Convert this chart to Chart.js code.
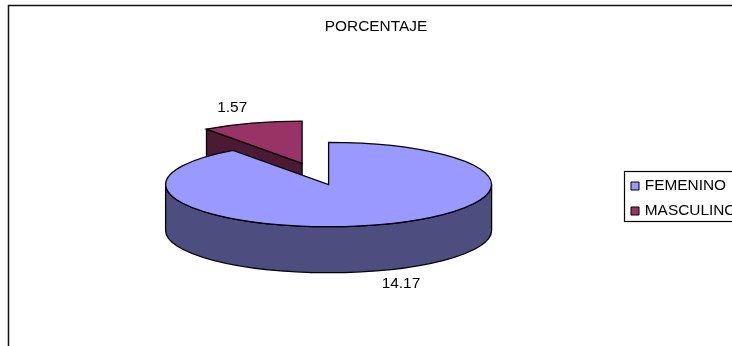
<!DOCTYPE html>
<html>
<head>
<meta charset="utf-8">
<title>PORCENTAJE</title>
<script src="https://cdn.jsdelivr.net/npm/chart.js@4/dist/chart.umd.js"></script>
<style>
    html, body { margin: 0; padding: 0; background: #fff; overflow: hidden; }
    #wrap { width: 732px; height: 346px; overflow: hidden; }
    canvas { display: block; }
</style>
</head>
<body>
<div id="wrap"><canvas id="pieChart" width="752" height="346"></canvas></div>
<script>
const titleText = 'PORCENTAJE';
const categories = ['FEMENINO', 'MASCULINO'];
const percentValues = [14.17, 1.57];
const topColors = ['#9999FF', '#993366'];
const wallColors = ['#4D4D80', '#4D1A33'];

// pie geometry, flattened into a fake 3D disc
const pie = { x: 328.6, y: 184.5, radius: 163, tilt: 0.2585, depth: 46, explode: 86 };
// label placement per slice: radial stretch and gap past the rim
const labelStretch = [1.44, 1.39];
const labelGap = [13, 15.5];
const fontFamily = '"Liberation Sans", Arial, sans-serif';
const fontSize = 15.4;
const legendRowGap = 9.6;
const outlineWidth = 1.3;

const midAngle = (arc) => (arc.startAngle + arc.endAngle) / 2;

// screen y of a pie-space y, once squashed by the tilt
const squashY = (y) => pie.y + (y - pie.y) * pie.tilt;

const traceRim = (ctx, arc, dy, from, to, back) => {
    ctx.ellipse(arc.x, squashY(arc.y) + dy, pie.radius, pie.radius * pie.tilt, 0, from, to, back);
};

const rimPoint = (arc, angle) => ({
    x: arc.x + Math.cos(angle) * pie.radius,
    y: squashY(arc.y) + Math.sin(angle) * pie.radius * pie.tilt
});

const paintPath = (ctx, fill) => {
    ctx.fillStyle = fill;
    ctx.fill();
    ctx.lineWidth = outlineWidth;
    ctx.strokeStyle = '#000';
    ctx.stroke();
};

const drawCutFace = (ctx, arc, angle, fill) => {
    const p = rimPoint(arc, angle);
    const cy = squashY(arc.y);
    ctx.beginPath();
    ctx.moveTo(arc.x, cy);
    ctx.lineTo(p.x, p.y);
    ctx.lineTo(p.x, p.y + pie.depth);
    ctx.lineTo(arc.x, cy + pie.depth);
    ctx.closePath();
    paintPath(ctx, fill);
};

const pie3d = {
    id: 'pie3d',
    afterLayout(chart) {
        // the disc keeps its place whatever the legend and title take
        const r = pie.radius;
        chart.chartArea = {
            left: pie.x - r, right: pie.x + r, top: pie.y - r, bottom: pie.y + r,
            width: r * 2, height: r * 2
        };
        // the legend adds its label padding before the first row
        const legend = chart.legend;
        legend.left = 632.9 - legendRowGap;
        legend.right = 752;
        legend.top = 178.3 - legendRowGap;
        legend.bottom = 232;
    },
    afterDatasetUpdate(chart) {
        // pulled out slice; the arc option "offset" would also grow its radius
        const slice = chart.getDatasetMeta(0).data[1];
        const a = midAngle(slice);
        slice.x += Math.cos(a) * pie.explode;
        slice.y += Math.sin(a) * pie.explode;
    },
    beforeDraw(chart) {
        const ctx = chart.ctx;
        ctx.save();
        ctx.strokeStyle = '#111';
        ctx.lineWidth = 1.5;
        ctx.strokeRect(8.5, 5.5, 800, 400);
        ctx.lineWidth = 1.2;
        ctx.strokeStyle = '#000';
        ctx.strokeRect(624.5, 171.5, 120, 50);
        ctx.restore();
    },
    beforeDatasetsDraw(chart) {
        const ctx = chart.ctx;
        const arcs = chart.getDatasetMeta(0).data;
        ctx.save();
        // back slices first so the front ones cover them
        for (let i = arcs.length - 1; i >= 0; i--) {
            const arc = arcs[i];
            if (Math.cos(arc.startAngle) < -1e-6) drawCutFace(ctx, arc, arc.startAngle, wallColors[i]);
            if (Math.cos(arc.endAngle) > 1e-6) drawCutFace(ctx, arc, arc.endAngle, wallColors[i]);
            const from = Math.max(arc.startAngle, 0);
            const to = Math.min(arc.endAngle, Math.PI);
            if (to > from) {
                ctx.beginPath();
                traceRim(ctx, arc, 0, from, to, false);
                traceRim(ctx, arc, pie.depth, to, from, true);
                ctx.closePath();
                paintPath(ctx, wallColors[i]);
            }
        }
        ctx.restore();
        ctx.save();
        ctx.translate(0, pie.y);
        ctx.scale(1, pie.tilt);
        ctx.translate(0, -pie.y);
    },
    afterDatasetsDraw(chart) {
        const ctx = chart.ctx;
        ctx.restore();
        const arcs = chart.getDatasetMeta(0).data;
        ctx.save();
        ctx.strokeStyle = '#000';
        ctx.lineWidth = outlineWidth;
        arcs.forEach((arc) => {
            ctx.beginPath();
            ctx.moveTo(arc.x, squashY(arc.y));
            traceRim(ctx, arc, 0, arc.startAngle, arc.endAngle, false);
            ctx.closePath();
            ctx.stroke();
        });
        ctx.fillStyle = '#000';
        ctx.font = fontSize + 'px ' + fontFamily;
        ctx.textAlign = 'center';
        ctx.textBaseline = 'middle';
        arcs.forEach((arc, i) => {
            const a = midAngle(arc);
            const s = Math.sin(a);
            const tx = arc.x + Math.cos(a) * pie.radius * labelStretch[i];
            let ty = squashY(arc.y) + s * pie.radius * pie.tilt;
            ty += s > 0 ? pie.depth + labelGap[i] : -labelGap[i];
            ctx.fillText(percentValues[i].toFixed(2), tx, ty);
        });
        ctx.restore();
    }
};

new Chart(document.getElementById('pieChart'), {
    type: 'pie',
    data: {
        labels: categories,
        datasets: [{
            data: percentValues,
            backgroundColor: topColors,
            borderWidth: 0,
            clip: false
        }]
    },
    options: {
        responsive: false,
        animation: false,
        events: [],
        plugins: {
            title: {
                display: true,
                text: titleText,
                color: '#000',
                font: { family: fontFamily, size: fontSize, weight: 'normal' },
                padding: { top: 18, bottom: 10 }
            },
            legend: {
                position: 'right',
                align: 'start',
                labels: {
                    color: '#000',
                    font: { family: fontFamily, size: fontSize },
                    usePointStyle: true,
                    pointStyle: 'rect',
                    // narrow legend slot, the square itself is set by boxHeight
                    boxWidth: 4.2,
                    boxHeight: 8,
                    padding: legendRowGap,
                    generateLabels(chart) {
                        return Chart.overrides.pie.plugins.legend.labels.generateLabels(chart)
                            .map((item) => ({ ...item, strokeStyle: '#000', lineWidth: 1 }));
                    }
                }
            },
            tooltip: { enabled: false }
        }
    },
    plugins: [pie3d]
});
</script>
</body>
</html>
